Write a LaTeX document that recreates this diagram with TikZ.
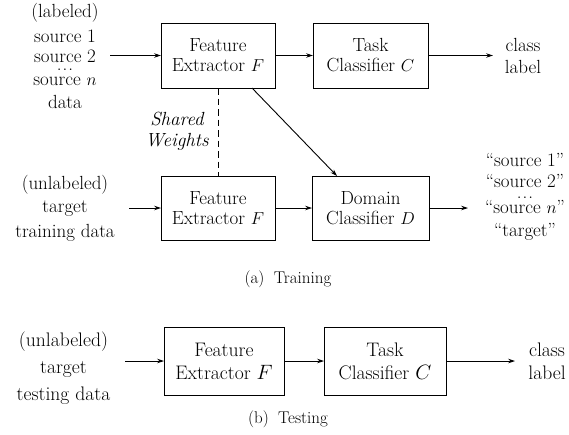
\documentclass[tikz,border=0pt]{standalone}
\usetikzlibrary{arrows.meta}
\newcommand{\mydots}{.\hspace{1pt}.\hspace{1pt}.}
\begin{document}
\begin{tikzpicture}[x=1pt,y=-1pt,
  every node/.style={inner sep=0pt, outer sep=0pt},
  blk/.style={draw, line width=0.9pt, font=\fontsize{19}{20}\selectfont, align=center},
  txt/.style={font=\fontsize{19}{23}\selectfont, align=center},
  txtb/.style={font=\fontsize{19.6}{27}\selectfont, align=center},
  blkb/.style={blk, font=\fontsize{19.6}{23}\selectfont},
  captxt/.style={font=\fontsize{17}{19}\selectfont, anchor=base},
  arr/.style={line width=0.9pt, -{Stealth[length=7pt,width=4.6pt]}},
  shared/.style={line width=0.9pt, dash pattern=on 6.5pt off 4pt}]
\useasboundingbox (0,0) rectangle (569,434);

% ---- (a) Training, top row
\node[blk, minimum width=114pt, minimum height=65pt] (fa) at (218,55.5) {Feature\\Extractor $F$};
\node[blk, minimum width=115pt, minimum height=65pt] (tc) at (370.5,55.5) {Task\\Classifier $C$};
\node[txt] (srcA) at (65,55.5) {(labeled)\\[2pt]source 1\\[-3pt]source 2\\[-15pt]\mydots\\[-8pt]source $n$\\data};
\node[txt, font=\fontsize{19}{22}\selectfont] (lblA) at (523,55.5) {class\\label};
\coordinate (inA) at (110,55.5);
\coordinate (outA) at (493,55.5);

% ---- (a) Training, bottom row
\node[blk, minimum width=114pt, minimum height=64pt] (fb) at (218,208) {Feature\\Extractor $F$};
\node[blk, minimum width=117pt, minimum height=64pt] (dc) at (370.5,208) {Domain\\Classifier $D$};
\node[txt] (tgtA) at (65,208) {(unlabeled)\\target\\[2pt]training data};
\node[txt, font=\fontsize{19}{21}\selectfont] (dom) at (525,196.5) {``source 1''\\``source 2''\\[-10pt]\mydots\\[-6pt]``source $n$''\\[2pt]``target''};
\coordinate (inB) at (129,208);
\coordinate (outB) at (468,208);

\node[txt, font=\fontsize{19}{21}\selectfont\itshape] (sw) at (177,131) {Shared\\Weights};

\draw[arr] (inA) -- (fa.west);
\draw[arr] (fa.east) -- (tc.west);
\draw[arr] (tc.east) -- (outA);
\draw[arr] (inB) -- (fb.west);
\draw[arr] (fb.east) -- (dc.west);
\draw[arr] (dc.east) -- (outB);
\draw[arr] ([xshift=34pt]fa.south) -- ([xshift=-33.5pt]dc.north);
\draw[shared] (fa.south) -- (fb.north);

\node[captxt] (capA) at (288,283) {(a)\hspace{0.55em}Training};

% ---- (b) Testing
\node[blkb, minimum width=120pt, minimum height=68pt] (ft) at (224,361) {Feature\\Extractor $F$};
\node[blkb, minimum width=122pt, minimum height=68pt] (tt) at (385,361) {Task\\Classifier $C$};
\node[txtb] (tgtB) at (63.5,368) {(unlabeled)\\target\\testing data};
\node[txtb, font=\fontsize{19.6}{23}\selectfont] (lblB) at (547,361.7) {class\\label};
\coordinate (inC) at (125,361);
\coordinate (outC) at (515,361);
\draw[arr] (inC) -- (ft.west);
\draw[arr] (ft.east) -- (tt.west);
\draw[arr] (tt.east) -- (outC);

\node[captxt] (capB) at (288,423) {(b)\hspace{0.55em}Testing};
\end{tikzpicture}
\end{document}
